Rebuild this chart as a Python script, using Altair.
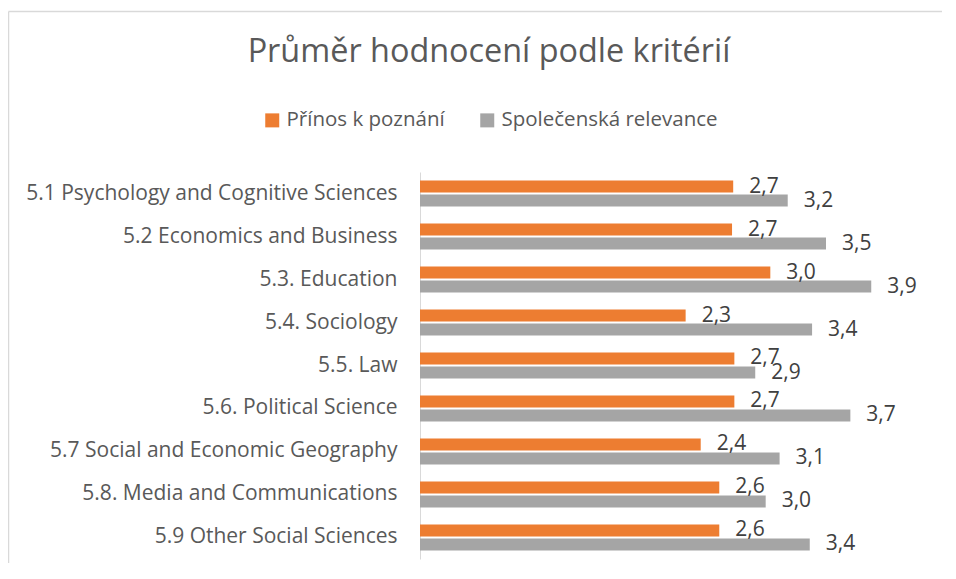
import altair as alt
import pandas as pd

categories = [
    "5.1 Psychology and Cognitive Sciences",
    "5.2 Economics and Business",
    "5.3. Education",
    "5.4. Sociology",
    "5.5. Law",
    "5.6. Political Science",
    "5.7 Social and Economic Geography",
    "5.8. Media and Communications",
    "5.9 Other Social Sciences",
]
series = ["Přínos k poznání", "Společenská relevance"]
prinos = [2.70, 2.69, 3.02, 2.29, 2.71, 2.71, 2.42, 2.58, 2.58]
relevance = [3.17, 3.50, 3.89, 3.38, 2.89, 3.71, 3.10, 2.98, 3.36]
colors = ["#ED7D31", "#A5A5A5"]

rows = []
for c, a, b in zip(categories, prinos, relevance):
    rows.append({"category": c, "series": series[0], "value": a})
    rows.append({"category": c, "series": series[1], "value": b})
df = pd.DataFrame(rows)

FONT = "Open Sans"
FS = 21

base = alt.Chart(df).transform_calculate(
    label="replace(format(datum.value, '.1f'), '.', ',')"
).encode(
    y=alt.Y(
        "category:N",
        sort=categories,
        scale=alt.Scale(paddingInner=0.395, paddingOuter=0.198),
        axis=alt.Axis(
            title=None,
            ticks=False,
            labelFont=FONT,
            labelFontSize=FS,
            labelColor="#595959",
            labelPadding=23,
            domainColor="#D9D9D9",
            domainWidth=1,
            grid=False,
            labelLimit=600,
        ),
    ),
    yOffset=alt.YOffset(
        "series:N", sort=series, scale=alt.Scale(paddingInner=1 / 7, paddingOuter=0)
    ),
    x=alt.X("value:Q", scale=alt.Scale(domain=[0, 4.5], nice=False), axis=None),
)

bars = base.mark_bar().encode(
    color=alt.Color(
        "series:N",
        sort=series,
        scale=alt.Scale(domain=series, range=colors),
        legend=alt.Legend(
            title=None,
            orient="none",
            legendX=-158,
            legendY=-62,
            direction="horizontal",
            symbolType="square",
            symbolSize=196,
            symbolStrokeWidth=0,
            labelFont=FONT,
            labelFontSize=20.5,
            labelColor="#595959",
            labelOffset=4,
            labelLimit=400,
            columnPadding=32,
            padding=0,
        ),
    )
)

text = base.mark_text(
    align="left", baseline="middle", dx=16, fontSize=FS, font=FONT, color="#404040"
).encode(text="label:N")

frame = pd.DataFrame({"k": [0]})
border_left = alt.Chart(frame).mark_rule(color="#D9D9D9", strokeWidth=1.5).encode(
    x=alt.value(-411.5), y=alt.value(-160.5), y2=alt.value(420)
)
border_top = alt.Chart(frame).mark_rule(color="#D9D9D9", strokeWidth=1.5).encode(
    x=alt.value(-411.5), x2=alt.value(560), y=alt.value(-160.5)
)

chart = (
    alt.layer(border_left, border_top, bars, text)
    .properties(
        width=522,
        height=387,
        autosize=alt.AutoSizeParams(type="none"),
        padding={"left": 412, "top": 164, "right": 0, "bottom": 4},
        title=alt.Title(
            "Průměr hodnocení podle kritérií",
            font=FONT,
            fontSize=32.4,
            fontWeight="normal",
            color="#595959",
            anchor="middle",
            frame="group",
            baseline="alphabetic",
            dx=-192,
            offset=-84,
        ),
    )
    .configure_view(stroke=None)
)

chart.save("out.html", embed_options={"renderer": "svg", "actions": False})
